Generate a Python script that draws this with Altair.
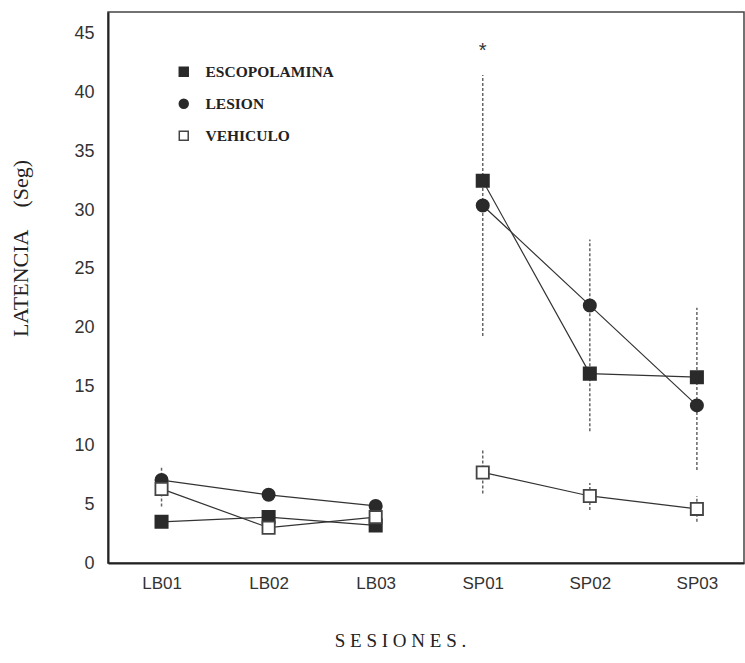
import altair as alt
import pandas as pd

sessions = ["LB01", "LB02", "LB03", "SP01", "SP02", "SP03"]
phases = ["LB", "LB", "LB", "SP", "SP", "SP"]
groups = ["ESCOPOLAMINA", "LESION", "VEHICULO"]

escopolamina = [3.5, 3.9, 3.2, 32.5, 16.1, 15.8]
lesion = [7.05, 5.8, 4.85, 30.4, 21.9, 13.4]
vehiculo = [6.3, 3.0, 3.9, 7.7, 5.7, 4.6]

# error bars (session, low, high)
err_session = ["LB01", "LB01", "SP01", "SP02", "SP03", "SP01", "SP02", "SP03"]
err_low = [7.0, 4.8, 19.3, 11.2, 7.9, 5.9, 4.5, 3.5]
err_high = [8.1, 6.3, 41.5, 27.5, 21.7, 9.6, 6.8, 5.7]

star_session = ["SP01"]
star_value = [43.5]

rows = []
for g, vals in zip(groups, [escopolamina, lesion, vehiculo]):
    for i, (s, p, v) in enumerate(zip(sessions, phases, vals)):
        rows.append({"grupo": g, "sesion": s, "seg": g + p, "idx": i + 1, "lat": v})
df = pd.DataFrame(rows)

err_df = pd.DataFrame({
    "idx": [sessions.index(s) + 1 for s in err_session],
    "lo": err_low,
    "hi": err_high,
})
star_df = pd.DataFrame({
    "idx": [sessions.index(s) + 1 for s in star_session],
    "v": star_value,
    "t": ["*"],
})

label_expr = "[" + ",".join("'%s'" % s for s in sessions) + "][datum.value - 1]"
NB = "\u00a0"

x_enc = alt.X(
    "idx:Q",
    scale=alt.Scale(domain=[0.5, 6.44], nice=False, zero=False),
    axis=alt.Axis(
        values=list(range(1, len(sessions) + 1)),
        labelExpr=label_expr,
        title=NB.join("SESIONES."),
        titleFont="Liberation Serif",
        titleFontSize=19,
        titleFontWeight="normal",
        titleColor="#222",
        titleX=292,
        titleY=77,
        titleAnchor="middle",
        titleAlign="center",
        titleBaseline="middle",
        labelFont="Liberation Sans",
        labelFontSize=17,
        labelColor="#333",
        labelPadding=12,
        ticks=False,
        grid=False,
        domainColor="#222",
        domainWidth=2,
    ),
)
y_scale = alt.Scale(domain=[0, 46.85], nice=False)
y_axis = alt.Axis(
    values=list(range(0, 50, 5)),
    title="LATENCIA" + NB * 4 + "(Seg)",
    titleFont="Liberation Serif",
    titleFontSize=22,
    titleFontWeight="normal",
    titleColor="#222",
    titleX=-76,
    titleY=236,
    titleAnchor="middle",
    titleAlign="center",
    titleAngle=270,
    labelFont="Liberation Sans",
    labelFontSize=18,
    labelColor="#333",
    labelPadding=14,
    ticks=False,
    grid=False,
    domainColor="#222",
    domainWidth=2,
)

errs = alt.Chart(err_df).mark_rule(
    color="#666", strokeWidth=1.5, strokeDash=[3, 2]
).encode(
    x=alt.X("idx:Q"),
    y=alt.Y("lo:Q"),
    y2="hi:Q",
)

lines = alt.Chart(df).mark_line(color="#333", strokeWidth=1.2).encode(
    x=x_enc,
    y=alt.Y("lat:Q", scale=y_scale, axis=y_axis),
    detail="seg:N",
)

legend = alt.Legend(
    title=None,
    orient="none",
    legendX=68,
    legendY=52,
    labelFont="Liberation Serif",
    labelFontWeight="bold",
    labelFontSize=15.5,
    labelColor="#222",
    labelOffset=14,
    rowPadding=15,
    symbolSize=80,
    symbolStrokeWidth=1.5,
)

points = alt.Chart(df).mark_point(
    filled=False, strokeWidth=1.8, opacity=1, size=150
).encode(
    x=alt.X("idx:Q"),
    y=alt.Y("lat:Q"),
    shape=alt.Shape(
        "grupo:N",
        scale=alt.Scale(domain=groups, range=["square", "circle", "square"]),
        legend=legend,
    ),
    fill=alt.Fill(
        "grupo:N",
        scale=alt.Scale(domain=groups, range=["#2a2a2a", "#2a2a2a", "#ffffff"]),
        legend=legend,
    ),
    stroke=alt.Stroke(
        "grupo:N",
        scale=alt.Scale(domain=groups, range=["#2a2a2a", "#2a2a2a", "#444444"]),
        legend=legend,
    ),
)

star = alt.Chart(star_df).mark_text(
    font="Liberation Sans", fontSize=20, color="#333", baseline="middle"
).encode(
    x=alt.X("idx:Q"),
    y=alt.Y("v:Q"),
    text="t:N",
)

chart = (
    alt.layer(errs, lines, points, star)
    .properties(
        width=636,
        height=551,
        autosize=alt.AutoSizeParams(type="none"),
        padding={"left": 108, "top": 12, "right": 1, "bottom": 100},
        background="white",
    )
    .configure_view(stroke="#444", strokeWidth=1.5)
)

chart.save("out.html", embed_options={"renderer": "svg", "actions": False})
